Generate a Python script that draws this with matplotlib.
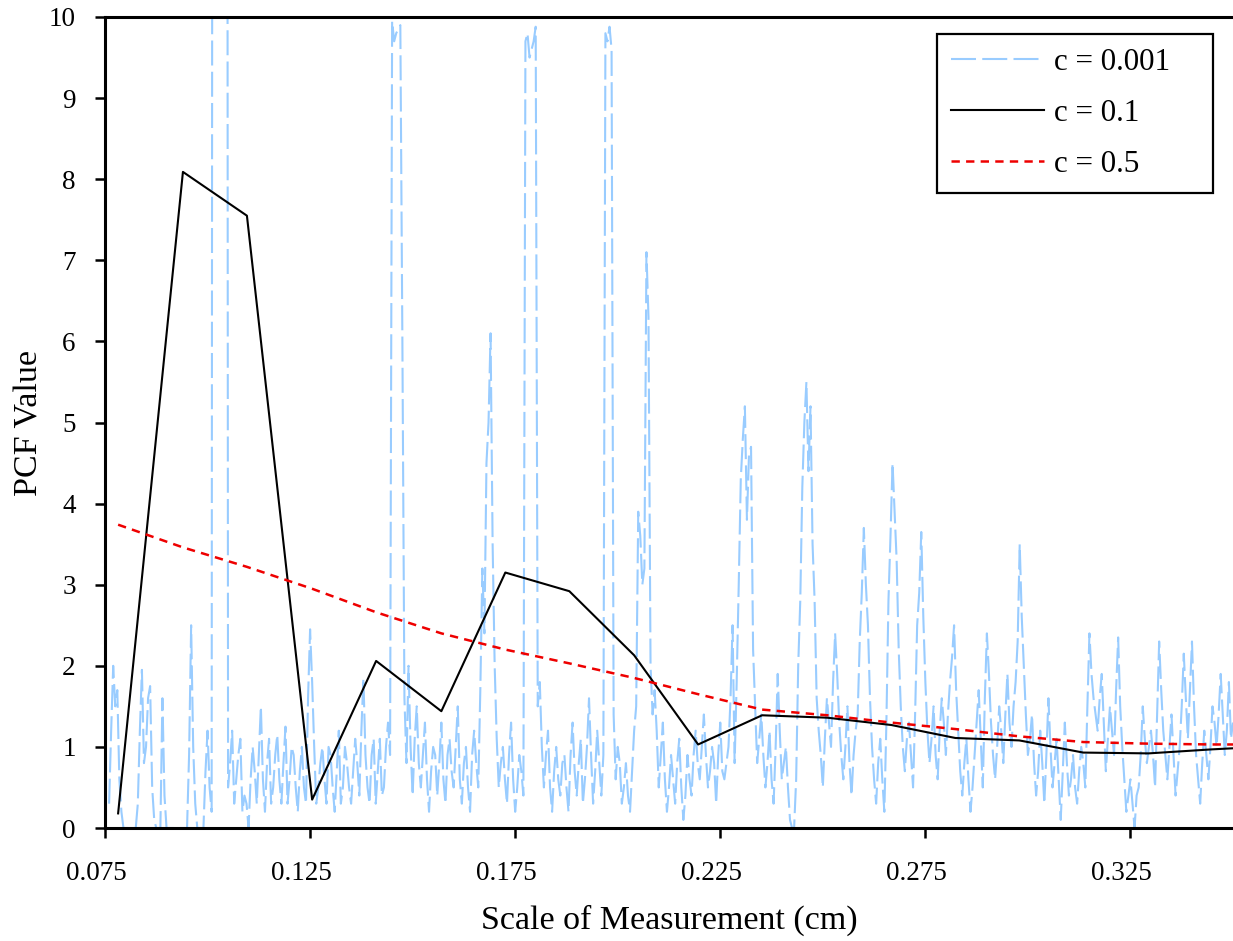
import numpy as np
import matplotlib
matplotlib.use("Agg")
from matplotlib import pyplot as plt
from matplotlib.transforms import ScaledTranslation

plt.rcParams['font.family'] = ['Liberation Serif', 'DejaVu Serif']
plt.rcParams['lines.scale_dashes'] = False

x_fine = np.round(np.arange(0.076, 0.3505, 0.001), 4)
pcf_fine = [
    0.3, 2.0, 1.7, 0.2, 0, 0, 0, 0.3, 1.95, 1.0,
    1.75, 0.1, 0, 1.6, 0, 0, 0, 0, 0, 0,
    2.5, 0.3, 0, 0, 1.2, 0.2, 40, 40, 40, 0.5,
    1.2, 0.6, 1.1, 0.4, 0, 1.0, 0.3, 1.5, 0.2, 1.1,
    0.5, 1.15, 0.3, 1.25, 0.6, 0.9, 0.2, 1.0, 0.3, 2.45,
    1.0, 0.5, 1.0, 0.3, 0.9, 0.2, 1.2, 0.5, 0.8, 0.3,
    1.1, 0.4, 1.85, 0.5, 0.9, 0.3, 1.1, 0.5, 1.3, 9.95,
    9.8, 9.9, 1.6, 2.0, 0.4, 1.5, 0.5, 1.3, 0.2, 1.0,
    0.4, 1.3, 0.3, 1.1, 0.5, 1.5, 0.3, 1.0, 0.2, 1.2,
    0.5, 3.2, 4.5, 6.1, 2.0, 0.5, 1.0, 0.3, 1.3, 0.2,
    0.9, 0.4, 9.8, 9.6, 9.88, 1.8, 0.5, 1.2, 0.2, 1.0,
    0.4, 0.9, 0.2, 1.3, 0.4, 1.1, 0.6, 1.6, 0.3, 1.2,
    0.4, 9.8, 9.88, 1.4, 1.0, 0.3, 0.8, 0.2, 1.2, 3.9,
    3.0, 7.1, 2.0, 1.7, 0.5, 1.3, 0.2, 0.9, 0.3, 1.1,
    0.1, 0.9, 0.4, 1.2, 0.6, 1.4, 0.5, 1.0, 0.3, 1.3,
    0.6, 1.0, 2.5, 1.8, 4.3, 5.2, 4.6, 2.2, 0.8, 1.4,
    0.5, 1.2, 0.3, 1.9, 0.6, 1.0, 0.1, 0.0, 2.0, 4.2,
    5.5, 5.2, 2.8, 1.2, 0.5, 1.6, 1.0, 2.4, 1.3, 0.6,
    1.5, 0.4, 1.2, 2.3, 3.7, 2.5, 1.0, 0.3, 1.1, 0.2,
    2.8, 4.5, 3.3, 1.5, 0.7, 1.3, 0.5, 2.5, 3.65, 1.8,
    0.8, 1.5, 0.6, 1.6, 0.9, 1.8, 2.5, 1.2, 0.4, 1.1,
    0.2, 0.9, 1.7, 0.5, 2.4, 1.3, 0.6, 1.5, 0.8, 1.9,
    1.0, 1.8, 3.5, 2.0, 0.9, 1.4, 0.4, 1.2, 0.3, 1.6,
    0.5, 1.1, 0.1, 1.3, 0.4, 0.9, 0.3, 1.0, 0.5, 2.4,
    1.6, 1.2, 1.9, 0.7, 1.5, 0.9, 2.35, 1.0, 0.2, 0.6,
    0.0, 0.5, 1.5, 0.8, 1.2, 0.5, 2.3, 1.2, 0.6, 1.4,
    0.4, 1.0, 2.15, 1.1, 2.3, 0.9, 0.3, 1.2, 0.6, 1.5,
    1.0, 1.9, 0.9, 1.8, 1.3,
]
x_half = np.round(np.arange(0.0765, 0.3500, 0.001), 4)
pcf_half = [
    1.2, 1.5, 0.6, 0, 0, 0, 0, 1.2, 0.8, 1.6,
    0.5, 0, 0, 0.4, 0, 0, 0, 0, 0, 0.9,
    1.0, 0, 0, 0.7, 0.5, 40, 40, 40, 40, 0.8,
    0.3, 0.9, 0.2, 0.3, 0.6, 0.7, 0.9, 0.6, 0.8, 0.3,
    0.9, 0.6, 0.8, 0.3, 1.0, 0.5, 0.7, 0.5, 1.6, 1.8,
    0.3, 0.8, 0.6, 1.0, 0.5, 0.7, 0.3, 1.0, 0.5, 0.7,
    0.8, 1.2, 0.9, 0.3, 1.1, 0.7, 0.4, 1.0, 0.9, 9.7,
    9.85, 6.0, 0.8, 1.0, 1.1, 0.8, 0.9, 0.6, 0.7, 0.9,
    0.8, 0.6, 0.9, 0.7, 1.0, 0.6, 0.8, 0.5, 0.9, 0.8,
    1.7, 2.4, 5.0, 3.5, 1.1, 0.8, 0.6, 0.9, 0.6, 0.5,
    0.7, 9.7, 9.5, 9.7, 1.5, 1.0, 0.9, 0.5, 0.7, 0.6,
    0.8, 0.5, 0.9, 0.7, 0.8, 0.3, 1.0, 0.9, 0.7, 0.8,
    0.9, 9.7, 9.6, 0.6, 0.8, 0.5, 0.4, 0.7, 1.5, 3.6,
    3.2, 6.3, 1.4, 1.2, 0.9, 0.6, 0.5, 0.6, 0.8, 0.5,
    0.4, 0.6, 0.9, 0.8, 1.0, 0.9, 0.7, 0.8, 0.9, 0.7,
    0.8, 1.6, 0.8, 3.0, 4.8, 3.8, 4.7, 1.5, 1.1, 0.9,
    0.8, 0.6, 1.0, 1.2, 0.8, 0.5, 0.0, 0.6, 2.8, 5.0,
    4.4, 3.5, 1.6, 0.9, 1.1, 1.3, 1.8, 1.9, 0.9, 1.0,
    0.8, 0.9, 1.4, 2.9, 3.0, 1.6, 0.6, 0.8, 0.6, 1.3,
    3.6, 3.9, 2.2, 1.0, 1.1, 0.9, 1.4, 2.9, 2.6, 1.2,
    1.1, 0.9, 1.2, 1.3, 1.4, 2.1, 1.7, 0.7, 0.8, 0.6,
    0.5, 1.3, 1.1, 1.6, 1.9, 0.9, 1.0, 1.2, 1.4, 1.3,
    1.5, 2.3, 2.6, 1.4, 1.1, 0.8, 0.7, 0.8, 0.9, 1.0,
    0.8, 0.6, 0.7, 0.8, 0.6, 0.5, 0.7, 0.8, 1.5, 1.9,
    1.4, 1.6, 1.3, 1.1, 1.2, 1.7, 1.5, 0.6, 0.4, 0.3,
    0.4, 0.9, 1.1, 1.0, 0.9, 1.4, 1.7, 0.9, 1.0, 0.9,
    0.7, 1.5, 1.6, 1.7, 1.5, 0.6, 0.8, 0.9, 1.0, 1.3,
    1.4, 1.4, 1.2, 1.1,
]

# c = 0.1 and c = 0.5 : coarse sampled PCF
x_coarse = [0.0782, 0.0940, 0.1096, 0.1255, 0.1411, 0.1570, 0.1726, 0.1882,
            0.2040, 0.2196, 0.2352, 0.2511, 0.2667, 0.2823, 0.2979, 0.3135,
            0.3294, 0.3450, 0.3606]
pcf_c01 = [0.18, 8.09, 7.55, 0.35, 2.06, 1.44, 3.15, 2.92,
           2.13, 1.03, 1.39, 1.36, 1.27, 1.11, 1.08, 0.93,
           0.92, 0.97, 1.01]
pcf_c05 = [3.74, 3.46, 3.22, 2.95, 2.66, 2.40, 2.20, 2.03,
           1.85, 1.65, 1.46, 1.39, 1.30, 1.22, 1.13, 1.06,
           1.04, 1.03, 1.03]

x_ticks = [0.075, 0.125, 0.175, 0.225, 0.275, 0.325]
y_ticks = list(range(0, 11))


def merge_series(xa, ya, xb, yb):
    x = np.concatenate([xa, xb])
    y = np.concatenate([ya, yb])
    order = np.argsort(x)
    return x[order], y[order]


x_c0001, y_c0001 = merge_series(x_fine, pcf_fine, x_half, pcf_half)

fig = plt.figure(figsize=(12.33, 9.41), dpi=100)
ax = fig.add_axes([105 / 1233, 113 / 941, 1128 / 1233, 811 / 941])

ax.plot(x_c0001, y_c0001, color="#99CCFF", linewidth=1.5, dashes=(18, 4.5),
        label="c = 0.001")
ax.plot(x_coarse, pcf_c01, color="black", linewidth=1.5, label="c = 0.1")
ax.plot(x_coarse, pcf_c05, color="#EE0000", linewidth=1.8, dashes=(6, 4.5),
        label="c = 0.5")

ax.set_xlim(0.075, 0.350)
ax.set_ylim(0, 10)
ax.set_xticks(x_ticks)
ax.set_xticklabels([f"{t:.3f}" for t in x_ticks])
ax.set_yticks(y_ticks)

for side in ["left", "bottom", "top"]:
    ax.spines[side].set_linewidth(2.2)
ax.spines["right"].set_visible(False)

ax.tick_params(axis="both", direction="out", length=7, width=1.8,
               labelsize=19.5)
ax.tick_params(axis="x", pad=17)
ax.tick_params(axis="y", pad=14)
shift = ScaledTranslation(-9 / 100, 0, fig.dpi_scale_trans)
for lbl in ax.get_xticklabels():
    lbl.set_transform(lbl.get_transform() + shift)

ax.set_xlabel("Scale of Measurement (cm)", fontsize=24.5, labelpad=13)
ax.set_ylabel("PCF Value", fontsize=24.5, labelpad=3)

leg = ax.legend(loc="upper left",
                bbox_to_anchor=(937 / 1233, 0, 276 / 1233, 907 / 941),
                bbox_transform=fig.transFigure, mode="expand",
                fontsize=22.4, frameon=True, fancybox=False, handlelength=3.0,
                handletextpad=0.3, borderpad=0.45, labelspacing=0.7,
                borderaxespad=0)
frame = leg.get_frame()
frame.set_edgecolor("black")
frame.set_linewidth(1.6)
frame.set_alpha(1)

fig.savefig("out.png", dpi=100)
